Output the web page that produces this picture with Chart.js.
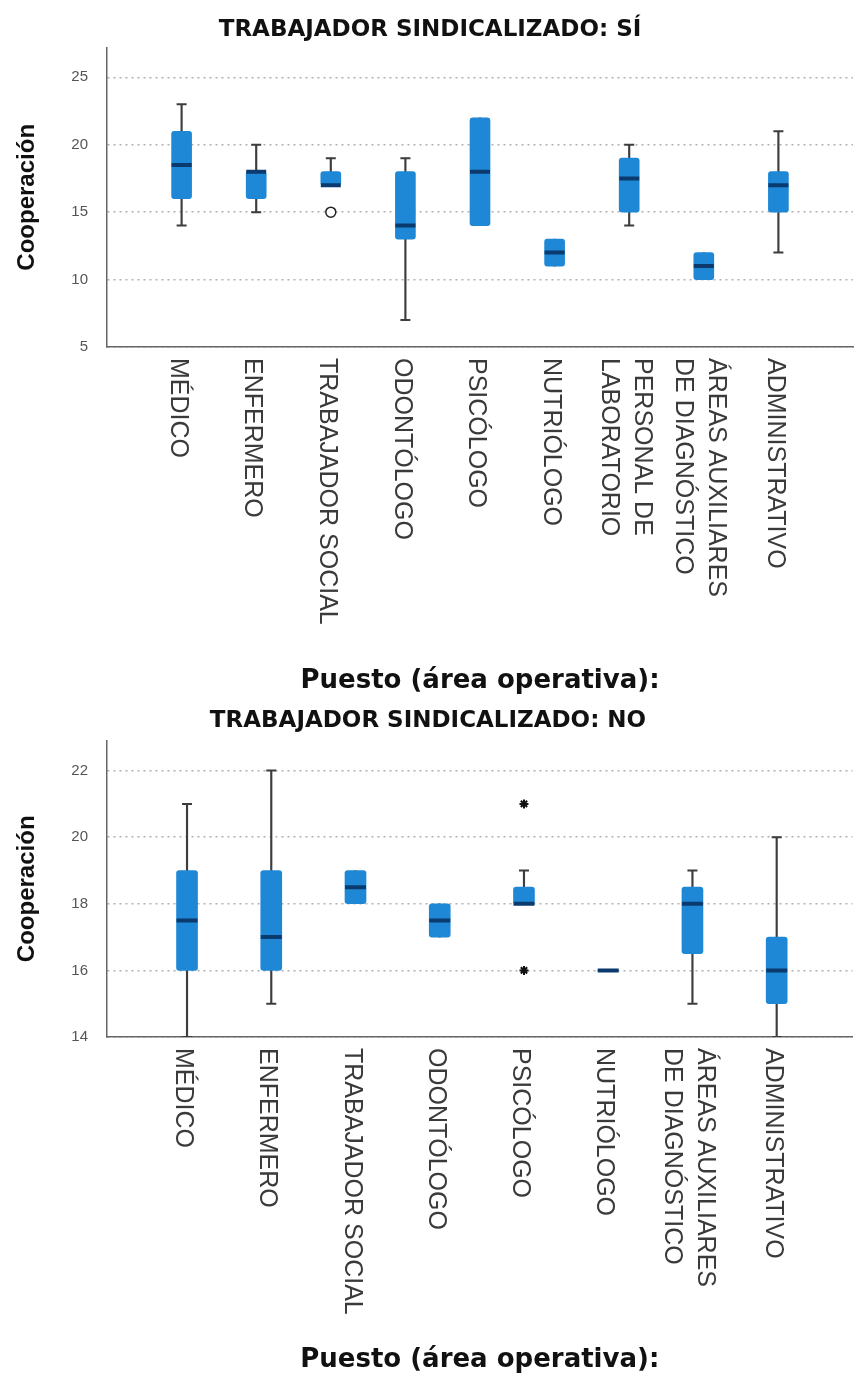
<!DOCTYPE html>
<html lang="es">
<head>
<meta charset="UTF-8">
<title>Cooperación por puesto</title>
<script src="https://cdn.jsdelivr.net/npm/chart.js@4.4.0/dist/chart.umd.min.js"></script>
<style>
  body { margin: 0; background: #fff; }
  .panel { position: relative; width: 867px; }
  #top { height: 700px; }
  #bottom { height: 676px; }
</style>
</head>
<body>
<div class="panel" id="top"><canvas id="chartSi"></canvas></div>
<div class="panel" id="bottom"><canvas id="chartNo"></canvas></div>
<script>
// Trabajador sindicalizado: SÍ
const puestosSi = ['MÉDICO', 'ENFERMERO', 'TRABAJADOR SOCIAL', 'ODONTÓLOGO', 'PSICÓLOGO', 'NUTRIÓLOGO',
                   ['PERSONAL DE', 'LABORATORIO'], ['ÁREAS AUXILIARES', 'DE DIAGNÓSTICO'], 'ADMINISTRATIVO'];
const minSi    = [14, 15, 17, 7, 14, 11, 14, 10, 12];
const q1Si     = [16, 16, 17, 13, 14, 11, 15, 10, 15];
const medianSi = [18.5, 18, 17, 14, 18, 12, 17.5, 11, 17];
const q3Si     = [21, 18, 18, 18, 22, 13, 19, 12, 18];
const maxSi    = [23, 20, 19, 19, 22, 13, 20, 12, 21];
const atipicosSi = [{ x: 2, y: 15 }];
const extremosSi = [];
const yTicksSi = [5, 10, 15, 20, 25];

// Trabajador sindicalizado: NO
const puestosNo = ['MÉDICO', 'ENFERMERO', 'TRABAJADOR SOCIAL', 'ODONTÓLOGO', 'PSICÓLOGO', 'NUTRIÓLOGO',
                   ['ÁREAS AUXILIARES', 'DE DIAGNÓSTICO'], 'ADMINISTRATIVO'];
const minNo    = [14, 15, 18, 17, 18, 16, 15, 14];
const q1No     = [16, 16, 18, 17, 18, 16, 16.5, 15];
const medianNo = [17.5, 17, 18.5, 17.5, 18, 16, 18, 16];
const q3No     = [19, 19, 19, 18, 18.5, 16, 18.5, 17];
const maxNo    = [21, 22, 19, 18, 19, 16, 19, 20];
const atipicosNo = [];
const extremosNo = [{ x: 4, y: 21 }, { x: 4, y: 16 }];
const yTicksNo = [14, 16, 18, 20, 22];

const BOX = '#1e88d6', MEDIAN = '#0a3a6e', WHISKER = '#3d3d3d';

function boxDatasets(mins, q1s, meds, q3s, maxs, atip, extr, boxWidth) {
  const idx = meds.map((_, i) => i);
  const caps = [];
  idx.forEach(i => {
    if (mins[i] < q1s[i]) caps.push({ x: i, y: mins[i] });
    if (maxs[i] > q3s[i]) caps.push({ x: i, y: maxs[i] });
  });
  return [
    { type: 'bar', data: idx.map(i => ({ x: i, y: [mins[i], maxs[i]] })), backgroundColor: WHISKER,
      barThickness: 1.5, grouped: false, order: 4 },
    { type: 'bar', data: idx.map(i => ({ x: i, y: [q1s[i], q3s[i]] })), backgroundColor: BOX,
      barThickness: boxWidth, borderRadius: 3, borderSkipped: false, grouped: false, order: 3 },
    { type: 'scatter', data: caps, pointStyle: 'line', pointRadius: 5, pointBorderColor: WHISKER,
      pointBorderWidth: 2, order: 2 },
    { type: 'scatter', data: idx.map(i => ({ x: i, y: meds[i] })), pointStyle: 'line', pointRadius: boxWidth / 2,
      pointBorderColor: MEDIAN, pointBorderWidth: 4, order: 1 },
    { type: 'scatter', data: atip, pointStyle: 'circle', pointRadius: 5, pointBackgroundColor: '#fff',
      pointBorderColor: '#222', pointBorderWidth: 1.5, order: 0 },
    { type: 'scatter', data: extr, pointStyle: 'star', pointRadius: 4.5, pointBorderColor: '#111',
      pointBorderWidth: 2, order: 0 }
  ];
}

// category labels read top-to-bottom, as in the original
function labelPlugin(labels) {
  return {
    id: 'rotatedLabels',
    afterDraw(chart) {
      const ctx = chart.ctx, x = chart.scales.x;
      ctx.save();
      ctx.font = '25px "Liberation Sans", Arial, sans-serif';
      ctx.fillStyle = '#3a3a3a';
      ctx.textBaseline = 'middle';
      ctx.textAlign = 'left';
      labels.forEach((lab, i) => {
        const lines = Array.isArray(lab) ? lab : [lab];
        ctx.save();
        ctx.translate(x.getPixelForValue(i) - 4, x.top + 11);
        ctx.rotate(Math.PI / 2);
        lines.forEach((t, k) => ctx.fillText(t, 0, (k - (lines.length - 1) / 2) * 33));
        ctx.restore();
      });
      ctx.restore();
    }
  };
}

function makeChart(id, o) {
  new Chart(document.getElementById(id), {
    type: 'bar',
    data: { datasets: o.datasets },
    plugins: [labelPlugin(o.labels)],
    options: {
      responsive: true,
      maintainAspectRatio: false,
      animation: false,
      events: [],
      layout: { padding: { left: 0, right: o.padRight, top: 0, bottom: 0 } },
      plugins: {
        legend: { display: false },
        tooltip: { enabled: false },
        title: {
          display: true, text: o.title, color: '#111',
          font: { family: 'DejaVu Sans', weight: 'bold', size: 23 },
          padding: { top: o.titleTop, bottom: o.titleBottom }
        }
      },
      scales: {
        x: {
          type: 'linear', min: o.xMin, max: o.xMax, offset: false,
          grid: { display: false },
          border: { color: '#666', width: 1.5 },
          ticks: { display: false },
          title: {
            display: true, text: 'Puesto (área operativa):', color: '#111',
            font: { family: 'DejaVu Sans', weight: 'bold', size: 26 },
            padding: { top: 0, bottom: o.xTitlePad }
          },
          afterFit: s => { s.height = o.xHeight; }
        },
        y: {
          min: o.yMin, max: o.yMax,
          afterBuildTicks: s => { s.ticks = o.yTicks.map(v => ({ value: v })); },
          grid: { color: 'rgba(150,150,150,0.75)', lineWidth: 1.5, drawTicks: false },
          border: { color: '#666', width: 1.5, dash: [2, 4] },
          ticks: { color: '#555', font: { family: 'Liberation Sans', size: 15 }, padding: 19 },
          title: {
            display: true, text: 'Cooperación', color: '#111',
            font: { family: 'Liberation Sans', weight: 'bold', size: 24 },
            padding: { top: 13, bottom: 0 }
          },
          afterFit: s => { s.width = 107; }
        }
      }
    }
  });
}

makeChart('chartSi', {
  title: 'TRABAJADOR SINDICALIZADO: SÍ',
  labels: puestosSi,
  datasets: boxDatasets(minSi, q1Si, medianSi, q3Si, maxSi, atipicosSi, extremosSi, 20),
  yTicks: yTicksSi, yMin: 5, yMax: 27.2,
  xMin: -1, xMax: 9,
  padRight: 7, titleTop: 16, titleBottom: 4, xHeight: 353, xTitlePad: 3
});

makeChart('chartNo', {
  title: 'TRABAJADOR SINDICALIZADO: NO',
  labels: puestosNo,
  datasets: boxDatasets(minNo, q1No, medianNo, q3No, maxNo, atipicosNo, extremosNo, 21),
  yTicks: yTicksNo, yMin: 14, yMax: 22.9,
  xMin: -0.95, xMax: 7.9,
  padRight: 11, titleTop: 7, titleBottom: 6, xHeight: 339, xTitlePad: 0
});
</script>
</body>
</html>
